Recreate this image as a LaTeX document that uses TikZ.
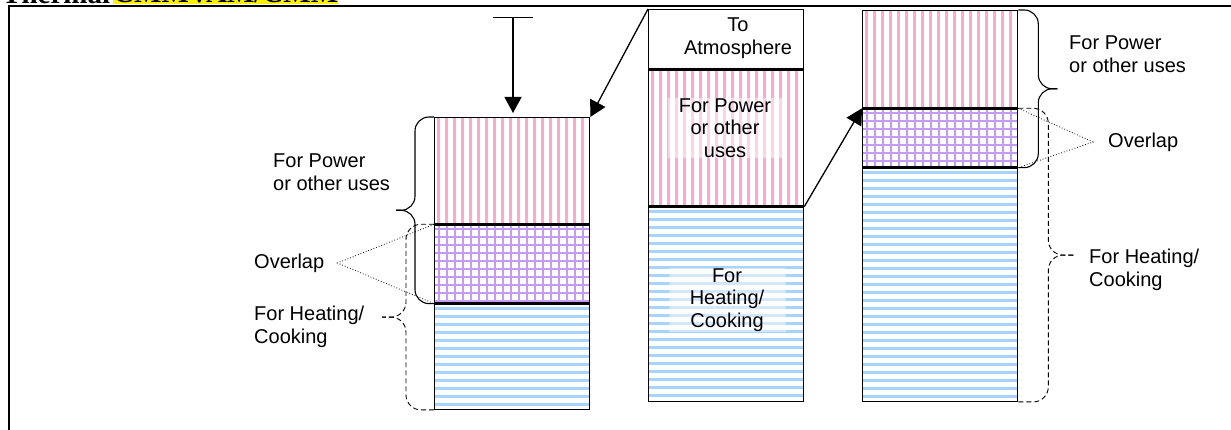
\documentclass[tikz,border=0pt]{standalone}
\usepackage{fontspec}
\setmainfont{Liberation Sans}
\newfontfamily\titlefont{Liberation Serif}
\usetikzlibrary{arrows.meta}
\usetikzlibrary{calc}
\usetikzlibrary{positioning}
\definecolor{powerpink}{HTML}{FFA6D2}
\definecolor{heatblue}{HTML}{A8D2FF}
\definecolor{overlapviolet}{HTML}{C49CF8}

\begin{document}
\begin{tikzpicture}[
    x=1pt, y=-1pt,
    node distance=0pt,
    band/.style={draw, line width=1.3pt, minimum width=155pt, inner sep=0pt},
    powerband/.style={band, path picture={
        \foreach \k in {0,...,19}
            \draw[powerpink, line width=2.6pt] ([xshift=\k*8pt+4pt]path picture bounding box.north west) -- ([xshift=\k*8pt+4pt]path picture bounding box.south west);
    }},
    heatband/.style={band, path picture={
        \foreach \k in {0,...,30}
            \draw[heatblue, line width=2.6pt] ([yshift=-\k*8pt-4pt]path picture bounding box.north west) -- ([yshift=-\k*8pt-4pt]path picture bounding box.north east);
    }},
    overlapband/.style={band, path picture={
        \foreach \k in {0,...,19}
            \draw[overlapviolet, line width=2.2pt] ([xshift=\k*8pt+4pt]path picture bounding box.north west) -- ([xshift=\k*8pt+4pt]path picture bounding box.south west);
        \foreach \k in {0,...,10}
            \draw[overlapviolet, line width=2.2pt] ([yshift=-\k*8pt-4pt]path picture bounding box.north west) -- ([yshift=-\k*8pt-4pt]path picture bounding box.north east);
    }},
    lbl/.style={font=\fontsize{20}{23.5}\selectfont, align=left, inner sep=0pt, anchor=west},
    inlbl/.style={font=\fontsize{20}{22.5}\selectfont, align=center, inner sep=1pt, fill=white, fill opacity=0.5, text opacity=1},
    arr/.style={line width=1.3pt, -{Triangle[length=16pt,width=17pt]}},
    sbrace/.style={line width=1.1pt, rounded corners=14pt},
    dbrace/.style={line width=0.9pt, dash pattern=on 5pt off 3pt, rounded corners=15pt},
    hint/.style={line width=0.8pt, dotted},
 ]
    \useasboundingbox (0,0) rectangle (1231,430);

    % title, cut at the top
    \node[anchor=base west, inner sep=0pt, font=\titlefont\fontsize{29}{30}\selectfont\bfseries] (ttl) at (2,3.5) {Thermal};
    \node[anchor=base west, inner sep=0pt, text depth=1pt, fill=yellow, font=\titlefont\fontsize{29}{30}\selectfont\bfseries] (ttlcmm) at (113,3) {CMMVAM/CMM};
    \draw[line width=2pt] (9,430) -- (9,6) -- (1231,6);

    % left column
    \node[powerband, minimum height=106pt, anchor=north west] (lpow) at (434,117) {};
    \node[overlapband, minimum height=78pt, below=of lpow] (lovl) {};
    \node[heatband, minimum height=105pt, below=of lovl] (lheat) {};

    % middle column
    \node[band, minimum height=59pt, anchor=north west] (atm) at (648,9) {};
    \node[powerband, minimum height=136pt, below=of atm] (mpow) {};
    \node[heatband, minimum height=194pt, below=of mpow] (mheat) {};
    \node[font=\fontsize{20}{23}\selectfont, align=center, inner sep=0pt] (atmtext) at (738,38) {To\\Atmosphere};
    \node[inlbl, minimum width=115pt] (mpowtext) at (725,128) {For Power\\or other\\uses};
    \node[inlbl, minimum width=117pt] (mheattext) at (727,300) {For\\Heating/\\Cooking};

    % right column
    \node[powerband, minimum height=97pt, anchor=north west] (rpow) at (862,10) {};
    \node[overlapband, minimum height=58pt, below=of rpow] (rovl) {};
    \node[heatband, minimum height=233pt, below=of rovl] (rheat) {};

    % arrows
    \coordinate (feed) at (513,17);
    \draw[line width=1.3pt, {Bar[width=40pt]}-{Triangle[length=16pt,width=17pt]}, shorten >=4pt] (feed) -- (feed |- lpow.north);
    \draw[arr] (atm.north west) -- (lpow.north east);
    \draw[arr] (mpow.south east) -- (rovl.north west);

    % left labels and braces
    \node[lbl] (lpowtext) at (273,172) {For Power\\or other uses};
    \node[lbl] (lovltext) at (254,263) {Overlap};
    \node[lbl] (lheattext) at (254,327) {For Heating/\\Cooking};
    \coordinate (lsbtip) at ($(lpow.north west)!.5!(lovl.south west)+(-38,0)$);
    \draw[sbrace] (lpow.north west) -- ++(-19,0) |- (lsbtip);
    \draw[sbrace] (lovl.south west) -- ++(-19,0) |- (lsbtip);
    \coordinate (ldbtip) at ($(lovl.north west)!.5!(lheat.south west)+(-52,0)$);
    \draw[dbrace] (lovl.north west) -- ++(-28,0) |- (ldbtip);
    \draw[dbrace] (lheat.south west) -- ++(-28,0) |- (ldbtip);
    \coordinate (lovltip) at ([xshift=13pt]lovltext.east);
    \draw[hint] (lovl.north west) -- (lovltip) -- (lovl.south west);

    % right labels and braces
    \node[lbl] (rpowtext) at (1069,54) {For Power\\or other uses};
    \node[lbl] (rovltext) at (1108,142) {Overlap};
    \node[lbl] (rheattext) at (1089,270) {For Heating/\\Cooking};
    \coordinate (rsbtip) at ($(rpow.north east)!.5!(rovl.south east)+(39,0)$);
    \draw[sbrace] (rpow.north east) -- ++(20,0) |- (rsbtip);
    \draw[sbrace] (rovl.south east) -- ++(20,0) |- (rsbtip);
    \coordinate (rdbtip) at ($(rovl.north east)!.5!(rheat.south east)+(56,0)$);
    \draw[dbrace] (rovl.north east) -- ++(30,0) |- (rdbtip);
    \draw[dbrace] (rheat.south east) -- ++(30,0) |- (rdbtip);
    \coordinate (rovltip) at ([xshift=-15pt]rovltext.west);
    \draw[hint] (rovl.north east) -- (rovltip) -- (rovl.south east);
\end{tikzpicture}
\end{document}
